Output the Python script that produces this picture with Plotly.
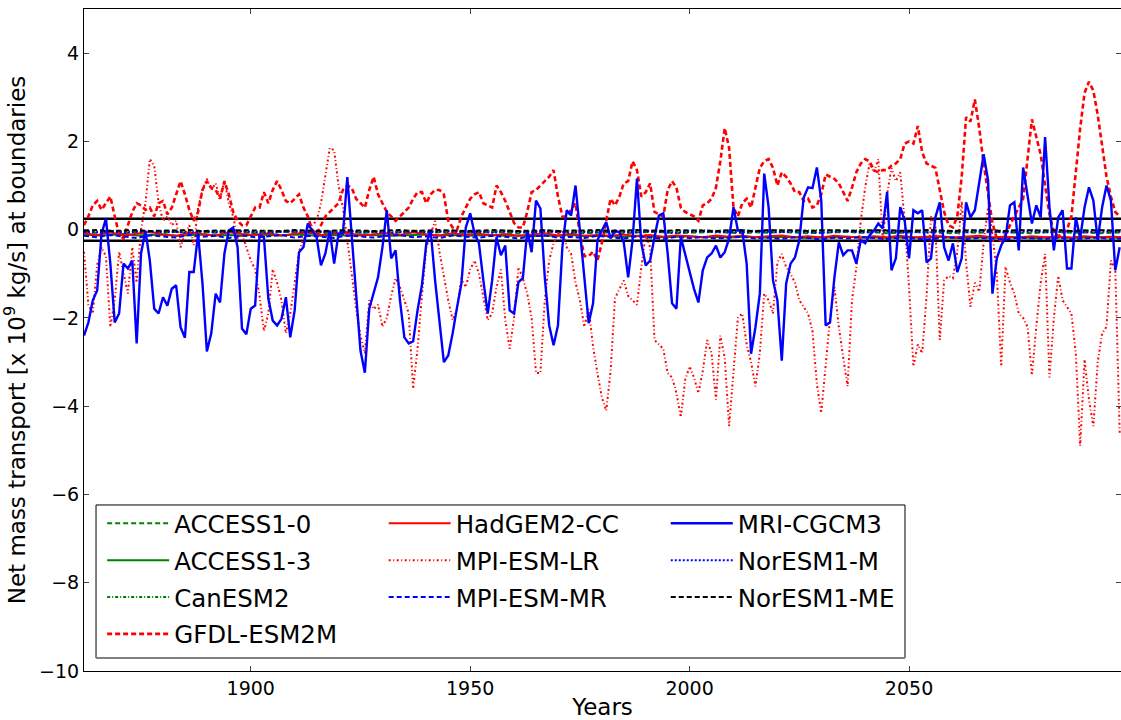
import plotly.graph_objects as go

# model years shown on the axis
years = list(range(1862, 2099))
years_3 = list(range(1862, 2100, 3))

mri_cgcm3 = [
    -2.40, -2.10, -1.60, -1.38, -0.09, 0.25, -0.77, -2.10,
    -1.90, -0.77, -0.88, -0.70, -2.58, -0.54, -0.02, -0.70, -1.79, -1.90,
    -1.53, -1.72, -1.34, -1.26, -2.21, -2.45, -0.96, -0.96, -0.09, -1.22,
    -2.76, -2.35, -1.45, -1.65, -0.54, -0.02, 0.05, -0.40, -2.24, -2.37,
    -1.79, -1.72, -0.13, -0.17, -1.56, -2.06, -2.17, -2.02, -1.53, -2.44,
    -1.83, -0.51, -0.40, 0.14, -0.02, -0.17, -0.81, -0.54, -0.02, -0.77,
    -0.09, -0.09, 1.19, -0.24, -1.45, -2.74, -3.24, -1.79, -1.45, -1.08,
    -0.40, 0.44, -0.65, -0.47, -1.60, -2.44, -2.58, -2.53, -1.83, -1.26,
    -0.31, -0.02, -1.15, -2.12, -3.00, -2.85, -2.35, -1.76, -1.22, 0.05,
    0.37, -0.09, -0.31, -1.15, -1.90, -1.15, -0.17, -0.58, -0.36, -1.83,
    -1.90, -1.19, -1.10, -0.02, -0.51, 0.66, 0.48, -1.08, -2.17, -2.62,
    -2.17, -0.40, 0.44, 0.32, 1.00, -0.02, -0.99, -2.12, -1.67, -0.24,
    -0.02, 0.17, -0.20, -0.02, -0.06, -0.29, -1.08, -0.24, 1.16, -0.31,
    -0.81, -0.70, -0.17, 0.32, 0.37, -0.54, -1.67, -1.79, -0.17, -0.58,
    -0.92, -1.34, -1.65, -0.92, -0.63, -0.54, -0.36, -0.63, -0.51, -0.20,
    0.51, -0.02, -0.02, -0.77, -2.81, -2.21, -1.45, 1.27, 0.51, -1.15,
    -1.60, -2.97, -1.22, -0.77, -0.63, -0.24, 0.73, 0.96, 0.94, 1.41,
    0.66, -2.17, -2.10, -1.08, -0.29, -0.58, -0.47, -0.47, -0.77, -0.24,
    -0.31, -0.13, -0.02, 0.14, 0.03, 0.85, -0.92, -0.65, 0.51, 0.21,
    -0.65, 0.44, 0.37, 0.44, -0.74, -0.65, 0.28, 0.62, -0.40, -0.70,
    -0.31, -0.96, -0.65, 0.62, 0.28, 0.44, 1.07, 1.71, 1.12, -1.45,
    -0.65, -0.36, -0.17, 0.55, 0.62, -0.47, 1.41, 0.82, 0.14, 0.55,
    0.28, 2.10, 0.51, -0.47, 0.28, 0.44, -0.88, -0.88, 0.28, -0.20,
    0.51, 0.96, 0.66, -0.24, 0.51, 1.00, 0.66, -0.92, -0.40,
]

gfdl_esm2m = [
    0.10, 0.30, 0.55, 0.65, 0.45, 0.60, 0.75, 0.30,
    -0.10, -0.20, 0.10, 0.40, 0.60, 0.55, 0.45, 0.50, 0.30, 0.60,
    0.65, 0.35, 0.50, 0.80, 1.10, 0.80, 0.45, 0.20, 0.40, 0.90,
    1.10, 0.95, 0.90, 0.70, 1.10, 0.80, 0.40, 0.20, 0.10, 0.10,
    0.30, 0.50, 0.50, 0.85, 0.60, 0.90, 1.10, 0.90, 0.65, 0.60,
    0.70, 0.80, 0.50, 0.30, 0.00, -0.10, 0.10, 0.30, 0.40, 0.50,
    0.60, 0.90, 1.00, 0.95, 0.70, 0.60, 0.50, 0.90, 1.20, 0.80,
    0.60, 0.40, 0.30, 0.20, 0.30, 0.40, 0.50, 0.70, 0.85, 0.85,
    0.60, 0.80, 0.90, 0.90, 0.80, 0.20, 0.05, 0.00, 0.30, 0.50,
    0.70, 0.80, 0.85, 0.60, 0.55, 0.50, 1.00, 0.85, 0.65, 0.40,
    0.15, 0.05, 0.05, 0.40, 0.85, 0.90, 1.00, 1.10, 1.20, 1.35,
    0.75, 0.30, 0.30, 0.45, 0.60, -0.10, -0.60, -0.60, -0.50, -0.70,
    -0.30, 0.20, 0.70, 0.55, 0.75, 1.05, 1.10, 1.55, 1.35, 0.75,
    0.85, 1.05, 0.40, 0.35, 0.30, 0.90, 1.10, 0.95, 0.50, 0.40,
    0.35, 0.30, 0.20, 0.55, 0.60, 0.70, 0.95, 1.55, 2.30, 1.85,
    0.50, 0.30, 0.60, 0.70, 0.50, 0.95, 1.40, 1.55, 1.60, 1.40,
    1.00, 1.30, 1.20, 1.05, 0.85, 0.85, 0.65, 0.70, 0.50, 0.55,
    0.80, 1.25, 1.20, 1.15, 1.05, 0.85, 0.65, 0.95, 1.30, 1.50,
    1.60, 1.55, 1.35, 1.30, 1.35, 1.35, 1.45, 1.50, 1.60, 1.95,
    2.00, 1.95, 2.35, 1.75, 1.50, 1.45, 1.40, 0.90, 0.40, 0.10,
    0.05, 0.30, 1.20, 2.55, 2.45, 2.95, 2.30, 1.50, 0.80, 0.15,
    -0.20, -0.25, -0.10, 0.10, 0.30, 0.50, 0.70, 1.60, 2.50, 2.10,
    1.70, 1.00, 0.35, -0.05, -0.15, -0.10, 0.00, 0.30, 1.30, 2.30,
    3.10, 3.35, 3.15, 2.60, 1.90, 1.20, 0.75, 0.40, 0.30,
]

mpi_esm_lr = [
    -0.50, -1.70, -1.90, -0.80, -0.40, -0.60, -2.20, -1.60,
    -0.50, -1.00, -1.45, -0.40, -1.20, 0.00, 0.60, 1.60, 1.45, 0.60,
    0.20, 0.30, 0.10, 0.20, -0.40, -0.10, 0.10, -0.35, 0.50, 0.90,
    1.15, 0.90, 1.05, 0.70, 1.10, 0.60, 0.30, -0.20, -0.10, -0.40,
    -0.70, -0.90, -1.50, -2.30, -1.90, -0.90, -1.20, -1.60, -2.35, -1.90,
    -1.20, -0.50, -0.20, 0.05, 0.10, 0.20, 0.60, 1.20, 1.85, 1.80,
    1.00, 0.50, -0.20, -1.00, -1.80, -2.40, -2.80, -1.60, -1.80, -1.70,
    -2.20, -2.00, -1.50, -1.10, -1.30, -1.60, -1.90, -3.60, -2.70, -1.50,
    -0.40, -0.10, 0.20, -0.50, -1.10, -1.60, -2.05, -1.80, -1.10, -1.30,
    -0.90, -0.70, -1.00, -1.50, -2.05, -1.90, -1.30, -0.90, -2.05, -2.70,
    -2.00, -0.85, -1.10, -1.45, -2.00, -3.25, -3.25, -1.60, -0.70, -0.30,
    -0.10, 0.00, -0.40, -0.55, -1.20, -1.60, -2.20, -1.80, -2.65, -3.25,
    -3.80, -4.10, -3.20, -1.55, -1.35, -1.15, -1.50, -1.60, -1.70, -0.85,
    -0.10, -0.40, -2.50, -2.60, -2.70, -3.25, -3.35, -3.70, -4.25, -3.40,
    -3.10, -3.35, -3.70, -3.20, -2.50, -2.80, -3.85, -2.40, -2.90, -4.45,
    -3.30, -2.00, -1.90, -2.60, -3.00, -3.55, -2.80, -1.45, -1.60, -1.90,
    -0.75, -0.55, -0.85, -1.00, -1.20, -1.60, -1.75, -1.90, -2.30, -3.50,
    -4.15, -3.10, -2.00, -1.30, -2.20, -2.90, -3.55, -1.60, -0.85, 0.20,
    0.95, 1.50, 1.30, 1.60, -0.25, 0.80, 1.40, 1.10, 1.30, 0.20,
    -1.30, -3.10, -2.60, -2.80, -1.50, 0.30, 0.10, -2.50, -1.15, -1.05,
    -1.10, -0.50, 0.65, -0.75, -1.75, -1.20, -1.40, -0.30, 0.50, -0.10,
    -1.00, -3.10, -0.85, -1.20, -1.45, -1.90, -2.00, -2.20, -3.30, -2.20,
    -1.20, -0.55, -3.35, -2.00, -1.05, -1.60, -1.75, -1.90, -2.80, -4.90,
    -2.95, -3.85, -4.45, -3.00, -2.35, -2.20, -0.70, -0.90, -4.60,
]

# near-zero models, read every third year
access1_0 = [
    -0.05, -0.07, -0.06, -0.08, -0.05, -0.06, -0.07, -0.05, -0.08, -0.06,
    -0.07, -0.05, -0.06, -0.08, -0.07, -0.05, -0.06, -0.07, -0.08, -0.06,
    -0.05, -0.07, -0.06, -0.08, -0.06, -0.05, -0.07, -0.06, -0.08, -0.07,
    -0.06, -0.05, -0.07, -0.08, -0.06, -0.07, -0.05, -0.06, -0.08, -0.07,
    -0.06, -0.08, -0.07, -0.05, -0.06, -0.08, -0.07, -0.06, -0.05, -0.07,
    -0.08, -0.06, -0.07, -0.05, -0.06, -0.08, -0.07, -0.06, -0.05, -0.07,
    -0.06, -0.08, -0.07, -0.06, -0.05, -0.07, -0.08, -0.06, -0.07, -0.05,
    -0.06, -0.07, -0.08, -0.06, -0.05, -0.07, -0.06, -0.08, -0.07, -0.06,
]
access1_3 = [
    -0.11, -0.13, -0.12, -0.10, -0.13, -0.12, -0.11, -0.14, -0.12, -0.11,
    -0.13, -0.12, -0.14, -0.11, -0.12, -0.13, -0.11, -0.12, -0.14, -0.12,
    -0.13, -0.11, -0.12, -0.14, -0.13, -0.12, -0.11, -0.13, -0.12, -0.14,
    -0.13, -0.12, -0.14, -0.13, -0.15, -0.13, -0.14, -0.12, -0.15, -0.14,
    -0.15, -0.16, -0.14, -0.15, -0.17, -0.16, -0.15, -0.17, -0.16, -0.18,
    -0.16, -0.17, -0.18, -0.16, -0.17, -0.19, -0.17, -0.18, -0.16, -0.18,
    -0.17, -0.19, -0.18, -0.17, -0.18, -0.16, -0.19, -0.18, -0.17, -0.19,
    -0.18, -0.17, -0.19, -0.18, -0.17, -0.19, -0.18, -0.17, -0.18, -0.19,
]
canesm2 = [
    -0.03, -0.04, -0.02, -0.04, -0.03, -0.05, -0.03, -0.02, -0.04, -0.03,
    -0.04, -0.02, -0.03, -0.05, -0.03, -0.04, -0.02, -0.03, -0.04, -0.03,
    -0.02, -0.04, -0.03, -0.05, -0.03, -0.02, -0.04, -0.03, -0.02, -0.04,
    -0.03, -0.04, -0.02, -0.03, -0.04, -0.02, -0.03, -0.02, -0.04, -0.03,
    -0.02, -0.03, -0.01, -0.03, -0.02, -0.04, -0.02, -0.01, -0.03, -0.02,
    -0.01, -0.03, -0.02, -0.01, -0.03, -0.02, -0.01, -0.02, -0.03, -0.01,
    -0.02, -0.01, -0.03, -0.02, -0.01, -0.02, -0.03, -0.01, -0.02, -0.01,
    -0.03, -0.02, -0.01, -0.02, -0.01, -0.03, -0.02, -0.01, -0.02, -0.01,
]
hadgem2_cc = [
    -0.08, -0.12, -0.06, -0.13, -0.09, -0.05, -0.11, -0.14, -0.07, -0.10,
    -0.13, -0.06, -0.10, -0.12, -0.08, -0.13, -0.09, -0.06, -0.12, -0.10,
    -0.07, -0.13, -0.10, -0.08, -0.12, -0.06, -0.11, -0.13, -0.08, -0.12,
    -0.09, -0.13, -0.10, -0.14, -0.11, -0.08, -0.13, -0.10, -0.14, -0.12,
    -0.14, -0.11, -0.15, -0.12, -0.16, -0.13, -0.15, -0.17, -0.13, -0.16,
    -0.14, -0.17, -0.15, -0.13, -0.17, -0.15, -0.18, -0.14, -0.16, -0.18,
    -0.15, -0.17, -0.14, -0.18, -0.16, -0.15, -0.18, -0.16, -0.14, -0.17,
    -0.16, -0.18, -0.15, -0.17, -0.16, -0.18, -0.15, -0.17, -0.16, -0.17,
]
mpi_esm_mr = [
    -0.14, -0.17, -0.12, -0.16, -0.19, -0.13, -0.15, -0.18, -0.12, -0.16,
    -0.14, -0.19, -0.13, -0.17, -0.15, -0.12, -0.18, -0.14, -0.16, -0.19,
    -0.13, -0.15, -0.18, -0.14, -0.12, -0.17, -0.15, -0.19, -0.13, -0.16,
    -0.18, -0.14, -0.16, -0.20, -0.15, -0.13, -0.18, -0.16, -0.19, -0.14,
    -0.17, -0.20, -0.15, -0.18, -0.21, -0.16, -0.19, -0.17, -0.20, -0.18,
    -0.16, -0.20, -0.18, -0.21, -0.17, -0.19, -0.22, -0.18, -0.20, -0.17,
    -0.19, -0.21, -0.18, -0.20, -0.22, -0.19, -0.17, -0.21, -0.19, -0.20,
    -0.22, -0.18, -0.20, -0.21, -0.19, -0.22, -0.20, -0.18, -0.21, -0.20,
]
noresm1_m = [
    -0.05, -0.06, -0.04, -0.07, -0.05, -0.04, -0.06, -0.05, -0.07, -0.04,
    -0.06, -0.05, -0.04, -0.06, -0.07, -0.05, -0.04, -0.06, -0.05, -0.07,
    -0.04, -0.06, -0.05, -0.07, -0.05, -0.04, -0.06, -0.05, -0.04, -0.06,
    -0.05, -0.07, -0.04, -0.05, -0.06, -0.04, -0.05, -0.07, -0.05, -0.06,
    -0.04, -0.05, -0.06, -0.04, -0.05, -0.07, -0.05, -0.04, -0.06, -0.05,
    -0.06, -0.04, -0.05, -0.06, -0.04, -0.05, -0.07, -0.05, -0.04, -0.06,
    -0.05, -0.04, -0.06, -0.05, -0.07, -0.04, -0.05, -0.06, -0.04, -0.05,
    -0.06, -0.05, -0.04, -0.06, -0.05, -0.04, -0.06, -0.05, -0.04, -0.05,
]
noresm1_me = [
    -0.02, -0.01, -0.03, -0.02, -0.01, -0.03, -0.02, -0.02, -0.01, -0.03,
    -0.02, -0.03, -0.01, -0.02, -0.02, -0.03, -0.01, -0.02, -0.03, -0.02,
    -0.01, -0.02, -0.03, -0.02, -0.01, -0.03, -0.02, -0.01, -0.02, -0.03,
    -0.02, -0.01, -0.02, -0.03, -0.02, -0.01, -0.03, -0.02, -0.02, -0.01,
    -0.03, -0.02, -0.01, -0.02, -0.03, -0.01, -0.02, -0.02, -0.03, -0.01,
    -0.02, -0.03, -0.01, -0.02, -0.01, -0.03, -0.02, -0.01, -0.02, -0.03,
    -0.01, -0.02, -0.02, -0.03, -0.01, -0.02, -0.03, -0.02, -0.01, -0.02,
    -0.03, -0.01, -0.02, -0.02, -0.01, -0.03, -0.02, -0.01, -0.02, -0.02,
]

thresholds = [-0.25, 0.25]
x_ticks = [1900, 1950, 2000, 2050]
y_ticks = [-10, -8, -6, -4, -2, 0, 2, 4]

GREEN = "#008000"
RED = "#ff0000"
BLUE = "#0000ff"
FONT = "DejaVu Sans"

fig = go.Figure()

for t in thresholds:
    fig.add_hline(y=t, line=dict(color="black", width=2.5), layer="below")

series = [
    # name, x, y, color, dash, width, legend
    ("ACCESS1-0", years_3, access1_0, GREEN, "5px,3px", 2, "legend"),
    ("ACCESS1-3", years_3, access1_3, GREEN, "solid", 2, "legend"),
    ("CanESM2", years_3, canesm2, GREEN, "3px,2px,1px,2px", 2, "legend"),
    ("GFDL-ESM2M", years, gfdl_esm2m, RED, "5px,3px", 2.6, "legend"),
    ("HadGEM2-CC", years_3, hadgem2_cc, RED, "solid", 2, "legend2"),
    ("MPI-ESM-LR", years, mpi_esm_lr, RED, "2px,2.5px,1px,2.5px", 2, "legend2"),
    ("MPI-ESM-MR", years_3, mpi_esm_mr, BLUE, "5px,3px", 2, "legend2"),
    ("MRI-CGCM3", years, mri_cgcm3, BLUE, "solid", 2.4, "legend3"),
    ("NorESM1-M", years_3, noresm1_m, BLUE, "2px,2px", 2, "legend3"),
    ("NorESM1-ME", years_3, noresm1_me, "black", "5px,3px", 2, "legend3"),
]

for name, xs, ys, color, dash, width, leg in series:
    fig.add_trace(go.Scatter(
        x=xs, y=ys, name=name, mode="lines",
        line=dict(color=color, dash=dash, width=width),
        legend=leg, legendgroup=name,
    ))

legend_style = dict(
    yanchor="top", xanchor="left", y=0.257,
    bgcolor="rgba(0,0,0,0)", borderwidth=0,
    font=dict(family=FONT, size=24.5, color="black"),
    itemwidth=62, tracegroupgap=2, traceorder="grouped",
)

# legend frame
fig.add_shape(type="rect", xref="paper", yref="paper",
              x0=0.0116, x1=0.7917, y0=0.0196, y1=0.2508,
              line=dict(color="black", width=1), fillcolor="white", layer="below")
fig.add_shape(type="line", xref="paper", yref="paper",
              x0=0.0116, x1=0.7917, y0=0.0196, y1=0.0196,
              line=dict(color="#808080", width=2), layer="below")

fig.update_layout(
    width=1121, height=720,
    margin=dict(l=84, r=0, t=9, b=49),
    plot_bgcolor="white", paper_bgcolor="white",
    font=dict(family=FONT, size=19, color="black"),
    legend=dict(x=0.0175, **legend_style),
    legend2=dict(x=0.289, **legend_style),
    legend3=dict(x=0.561, **legend_style),
    xaxis=dict(
        range=[1862, 2098.3], tickvals=x_ticks, ticks="inside", ticklen=5,
        showline=True, linecolor="black", linewidth=1, mirror="ticks",
        showgrid=False, zeroline=False,
        title=dict(text="Years", standoff=4),
    ),
    yaxis=dict(
        range=[-10, 5], tickvals=y_ticks, ticks="inside", ticklen=5,
        showline=True, linecolor="black", linewidth=1, mirror="ticks",
        showgrid=False, zeroline=False,
        title=dict(text="Net mass transport [x 10<sup>9</sup> kg/s] at boundaries", standoff=12),
    ),
)

# drop the page's default body margin so the figure fills the window exactly
fig.write_html(
    "out.html",
    config={"displayModeBar": False},
    post_script="document.body.style.margin='0';document.body.style.overflow='hidden';",
)
